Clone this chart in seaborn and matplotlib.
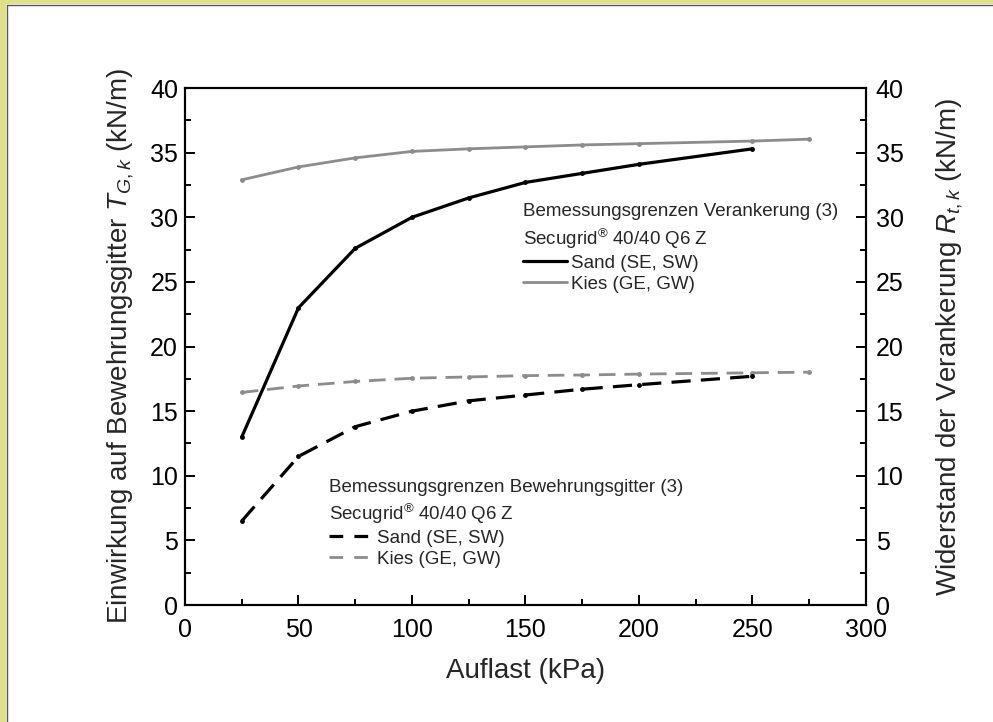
import matplotlib
matplotlib.use('Agg')
import matplotlib.pyplot as plt
import matplotlib.patches as mpatches
from matplotlib.ticker import MultipleLocator
from matplotlib.lines import Line2D
import pandas as pd
import seaborn as sns

# Auflast (kPa)
auflast_sand = [25, 50, 75, 100, 125, 150, 175, 200, 250]
auflast_kies = [25, 50, 75, 100, 125, 150, 175, 200, 250, 275]

# Widerstand der Verankerung R_t,k (kN/m)
veranker_sand = [13.0, 23.0, 27.6, 30.0, 31.5, 32.7, 33.4, 34.1, 35.3]
veranker_kies = [32.9, 33.9, 34.6, 35.1, 35.3, 35.45, 35.6, 35.7, 35.9, 36.05]

# Einwirkung auf Bewehrungsgitter T_G,k (kN/m)
gitter_sand = [6.5, 11.5, 13.8, 15.0, 15.8, 16.25, 16.7, 17.05, 17.7]
gitter_kies = [16.45, 16.95, 17.3, 17.55, 17.65, 17.75, 17.8, 17.87, 17.97, 18.02]

sns.set_style('white')
plt.rcParams['font.family'] = ['Liberation Sans', 'DejaVu Sans']
plt.rcParams['mathtext.fontset'] = 'custom'
plt.rcParams['mathtext.rm'] = 'Liberation Sans'
plt.rcParams['mathtext.it'] = 'Liberation Sans:italic'

GREY = '#8c8c8c'
DASH = (6, 3.2)

fig = plt.figure(figsize=(9.93, 7.22), dpi=100)
fig.patch.set_facecolor('white')
ax = fig.add_axes([0.1863, 0.162, 0.6857, 0.716])
ax2 = ax.twinx()

df_vs = pd.DataFrame({'x': auflast_sand, 'y': veranker_sand})
df_vk = pd.DataFrame({'x': auflast_kies, 'y': veranker_kies})
df_gs = pd.DataFrame({'x': auflast_sand, 'y': gitter_sand})
df_gk = pd.DataFrame({'x': auflast_kies, 'y': gitter_kies})

# Bemessungsgrenzen Bewehrungsgitter (linke Achse, gestrichelt)
sns.lineplot(data=df_gk, x='x', y='y', ax=ax, color=GREY, lw=2.0,
             marker='o', markersize=3.5, markeredgewidth=0)
ax.lines[-1].set_dashes(DASH)
sns.lineplot(data=df_gs, x='x', y='y', ax=ax, color='black', lw=2.3,
             marker='o', markersize=3.5, markeredgewidth=0)
ax.lines[-1].set_dashes(DASH)

# Bemessungsgrenzen Verankerung (rechte Achse, durchgezogen)
sns.lineplot(data=df_vk, x='x', y='y', ax=ax2, color=GREY, lw=2.0,
             marker='o', markersize=3.5, markeredgewidth=0)
sns.lineplot(data=df_vs, x='x', y='y', ax=ax2, color='black', lw=2.3,
             marker='o', markersize=3.5, markeredgewidth=0)

for a in (ax, ax2):
    a.set_xlim(0, 300)
    a.set_ylim(0, 40)
    a.yaxis.set_major_locator(MultipleLocator(5))
    a.yaxis.set_minor_locator(MultipleLocator(2.5))
    a.tick_params(which='major', direction='in', length=7, width=1.4,
                  labelsize=18, color='black', labelcolor='black')
    a.tick_params(which='minor', direction='in', length=4.5, width=1.4, color='black')
    for s in a.spines.values():
        s.set_linewidth(1.5)
        s.set_color('black')

ax.xaxis.set_major_locator(MultipleLocator(50))
ax.xaxis.set_minor_locator(MultipleLocator(25))
ax.tick_params(axis='x', which='both', top=False, bottom=True)
ax.tick_params(axis='y', which='both', left=True, right=False, pad=5)
ax2.tick_params(axis='y', which='both', right=True, left=False, pad=7)
ax.tick_params(axis='x', pad=9.5)

ax.set_xlabel('Auflast (kPa)', fontsize=20, labelpad=11)
ax.set_ylabel('Einwirkung auf Bewehrungsgitter $T_{G,k}$ (kN/m)', fontsize=20, labelpad=10)
ax2.set_ylabel('Widerstand der Verankerung $R_{t,k}$ (kN/m)', fontsize=20, labelpad=22)

# Legenden
h_top = [Line2D([], [], color='black', lw=2.3), Line2D([], [], color=GREY, lw=2.0)]
leg1 = ax2.legend(h_top, ['Sand (SE, SW)', 'Kies (GE, GW)'],
                  title='Bemessungsgrenzen Verankerung (3)\nSecugrid$^{®}$ 40/40 Q6 Z',
                  loc='upper left', bbox_to_anchor=(0.497, 0.777), frameon=False,
                  fontsize=13.5, title_fontsize=13.5, alignment='left',
                  handlelength=2.3, handletextpad=0.25, labelspacing=0.2,
                  borderpad=0, borderaxespad=0)
leg1.get_title().set_linespacing(1.35)

h_bot = [Line2D([], [], color='black', lw=2.3, dashes=(4.3, 3.5)),
         Line2D([], [], color=GREY, lw=2.0, dashes=(4.9, 4.0))]
leg2 = ax.legend(h_bot, ['Sand (SE, SW)', 'Kies (GE, GW)'],
                 title='Bemessungsgrenzen Bewehrungsgitter (3)\nSecugrid$^{®}$ 40/40 Q6 Z',
                 loc='upper left', bbox_to_anchor=(0.212, 0.243), frameon=False,
                 fontsize=13.5, title_fontsize=13.5, alignment='left',
                 handlelength=2.2, handletextpad=0.35, labelspacing=0.2,
                 borderpad=0, borderaxespad=0)
leg2.get_title().set_linespacing(1.3)

# Rahmen
fig.patches.append(mpatches.Rectangle((0, 0), 6 / 993, 1, transform=fig.transFigure,
                                      facecolor='#dfe08a', edgecolor='none', zorder=-1))
fig.patches.append(mpatches.Rectangle((0, 1 - 4 / 722), 1, 4 / 722, transform=fig.transFigure,
                                      facecolor='#dfe08a', edgecolor='none', zorder=-1))
fig.add_artist(Line2D([6.5 / 993, 6.5 / 993], [0, 1 - 4.5 / 722], transform=fig.transFigure,
                      color='#555555', lw=1.0))
fig.add_artist(Line2D([6.5 / 993, 1], [1 - 4.5 / 722, 1 - 4.5 / 722], transform=fig.transFigure,
                      color='#555555', lw=1.0))

fig.savefig('out.png', dpi=100)
